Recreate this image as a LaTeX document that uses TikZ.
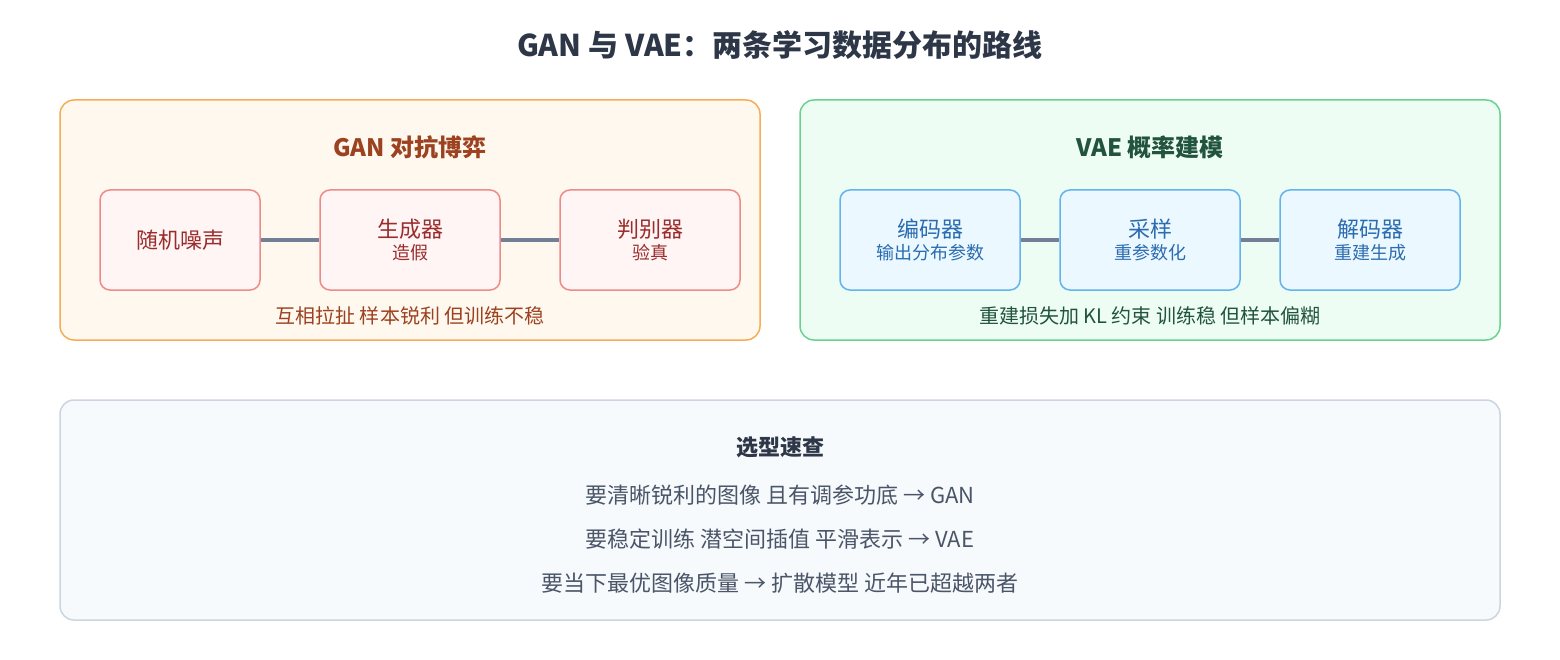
\documentclass[tikz,border=0pt]{standalone}
\usepackage{fontspec}
\setmainfont{Noto Sans CJK SC}
\definecolor{ttl}{HTML}{2D3748}
\definecolor{gbd}{HTML}{F6AD55}\definecolor{gbg}{HTML}{FEF8EE}
\definecolor{vbd}{HTML}{68D391}\definecolor{vbg}{HTML}{EEFDF3}
\definecolor{rbd}{HTML}{F08A8A}\definecolor{rbg}{HTML}{FFF5F5}\definecolor{rtx}{HTML}{9B2C2C}
\definecolor{bbd}{HTML}{63B3ED}\definecolor{bbg}{HTML}{EBF8FF}\definecolor{btx}{HTML}{2B6CB0}
\definecolor{gtx}{HTML}{9C4221}\definecolor{vtx}{HTML}{22543D}
\definecolor{sbd}{HTML}{CBD5E0}\definecolor{sbg}{HTML}{F7FAFC}\definecolor{stx}{HTML}{4A5568}
\definecolor{ln}{HTML}{718096}
\begin{document}
\begin{tikzpicture}[x=1pt,y=-1pt,
  panel/.style={rounded corners=14pt,line width=1.5pt},
  rnode/.style={draw=rbd,fill=rbg,rounded corners=10pt,line width=1.5pt,minimum height=100pt,text=rtx,align=center,inner sep=0pt},
  bnode/.style={draw=bbd,fill=bbg,rounded corners=10pt,line width=1.5pt,minimum height=100pt,text=btx,align=center,inner sep=0pt},
  conn/.style={ln,line width=3.5pt},
  big/.style={font=\fontsize{22}{26}\selectfont},
  small/.style={font=\fontsize{18}{22}\selectfont}]
\useasboundingbox (0,0) rectangle (1560,660);
\node[font=\bfseries\fontsize{30}{36}\selectfont,text=ttl] (title) at (780,45) {GAN 与 VAE：两条学习数据分布的路线};
\draw[panel,draw=gbd,fill=gbg] (60,100) rectangle (760,340);
\draw[panel,draw=vbd,fill=vbg] (800,100) rectangle (1500,340);
\draw[panel,draw=sbd,fill=sbg] (60,400) rectangle (1500,620);
\node[font=\bfseries\fontsize{24}{28}\selectfont,text=gtx] (gt) at (410,147) {GAN 对抗博弈};
\node[font=\bfseries\fontsize{24}{28}\selectfont,text=vtx] (vt) at (1150,147) {VAE 概率建模};
\node[rnode,minimum width=160pt,big] (n1) at (180,240) {随机噪声};
\node[rnode,minimum width=180pt] (n2) at (410,240) {{\fontsize{22}{26}\selectfont 生成器}\\[4pt]{\fontsize{18}{22}\selectfont 造假}};
\node[rnode,minimum width=180pt] (n3) at (650,240) {{\fontsize{22}{26}\selectfont 判别器}\\[4pt]{\fontsize{18}{22}\selectfont 验真}};
\node[bnode,minimum width=180pt] (m1) at (930,240) {{\fontsize{22}{26}\selectfont 编码器}\\[4pt]{\fontsize{18}{22}\selectfont 输出分布参数}};
\node[bnode,minimum width=180pt] (m2) at (1150,240) {{\fontsize{22}{26}\selectfont 采样}\\[4pt]{\fontsize{18}{22}\selectfont 重参数化}};
\node[bnode,minimum width=180pt] (m3) at (1370,240) {{\fontsize{22}{26}\selectfont 解码器}\\[4pt]{\fontsize{18}{22}\selectfont 重建生成}};
\draw[conn] (n1) -- (n2); \draw[conn] (n2) -- (n3);
\draw[conn] (m1) -- (m2); \draw[conn] (m2) -- (m3);
\node[font=\fontsize{20}{24}\selectfont,text=gtx] (gc) at (410,316) {互相拉扯 样本锐利 但训练不稳};
\node[font=\fontsize{20}{24}\selectfont,text=vtx] (vc) at (1150,316) {重建损失加 KL 约束 训练稳 但样本偏糊};
\node[font=\bfseries\fontsize{22}{26}\selectfont,text=ttl] (sh) at (780,447) {选型速查};
\node[font=\fontsize{22}{26}\selectfont,text=stx] (l1) at (780,495) {要清晰锐利的图像 且有调参功底 → GAN};
\node[font=\fontsize{22}{26}\selectfont,text=stx] (l2) at (780,539) {要稳定训练 潜空间插值 平滑表示 → VAE};
\node[font=\fontsize{22}{26}\selectfont,text=stx] (l3) at (780,583) {要当下最优图像质量 → 扩散模型 近年已超越两者};
\end{tikzpicture}
\end{document}
